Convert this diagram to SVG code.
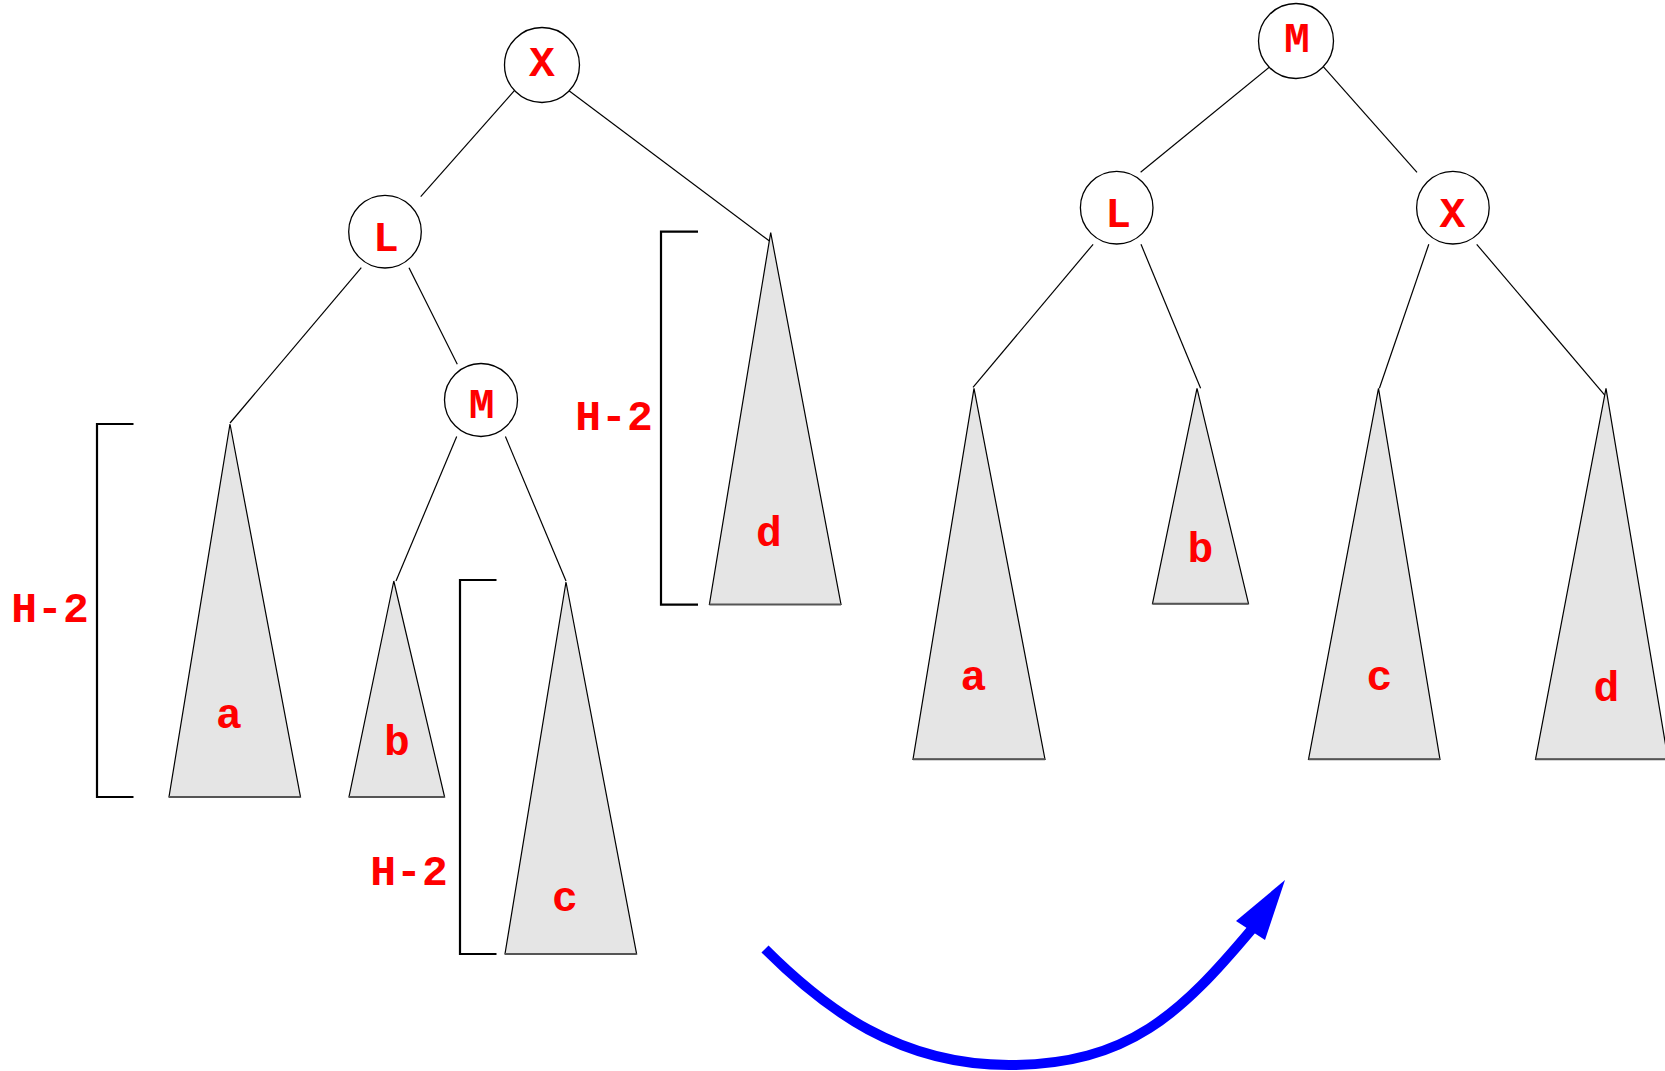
<svg xmlns="http://www.w3.org/2000/svg" width="1665" height="1071" viewBox="0 0 1665 1071">
<style>
.node circle{fill:#fff;stroke:#000;stroke-width:1.3}
.lbl{font-family:"Liberation Mono","Courier New",monospace;font-weight:bold;font-size:43px;fill:#ff0000;text-anchor:middle}
.tri polygon{fill:#e5e5e5;stroke:#000;stroke-width:1.2;stroke-linejoin:miter}
.tri line{stroke:#555;stroke-width:2}
.edges line{stroke:#000;stroke-width:1.2}
.brk{fill:none;stroke:#000;stroke-width:2.2}
</style>
<rect width="1665" height="1071" fill="#fff"/>
<g id="connectors" class="edges">
<line x1="517" y1="87.7" x2="420.7" y2="196.7"/>
<line x1="565" y1="87.7" x2="769.5" y2="241"/>
<line x1="361.3" y1="267.7" x2="230" y2="423"/>
<line x1="409" y1="267.7" x2="457.3" y2="364.3"/>
<line x1="456.7" y1="436.5" x2="396" y2="581"/>
<line x1="505.4" y1="436.5" x2="566" y2="581"/>
<line x1="1273.5" y1="63.7" x2="1140.6" y2="172.3"/>
<line x1="1320.6" y1="63.7" x2="1417" y2="172.3"/>
<line x1="1093.1" y1="244.3" x2="973" y2="387.3"/>
<line x1="1141" y1="244.3" x2="1200.6" y2="388.3"/>
<line x1="1428.8" y1="244.3" x2="1379.4" y2="388.3"/>
<line x1="1476.7" y1="244.3" x2="1606" y2="396.7"/>
</g>
<g id="node-X-left" class="node"><circle cx="542" cy="65" r="37.5"/><text class="lbl" x="542" y="76">X</text></g>
<g id="node-L-left" class="node"><circle cx="385" cy="231.7" r="36.3"/><text class="lbl" x="385.8" y="250.5">L</text></g>
<g id="node-M-left" class="node"><circle cx="481" cy="400" r="36.5"/><text class="lbl" x="481.7" y="418.3">M</text></g>
<g id="tree-a-left" class="tri"><polygon points="230,424 300.5,797 169,797"/><line x1="169" y1="797" x2="300.5" y2="797"/><text class="lbl" x="229" y="728">a</text></g>
<g id="tree-b-left" class="tri"><polygon points="393.8,581 444.6,797 349,797"/><line x1="349" y1="797" x2="444.6" y2="797"/><text class="lbl" x="397" y="755">b</text></g>
<g id="tree-c-left" class="tri"><polygon points="566,582 636.6,954 505,954"/><line x1="505" y1="954" x2="636.6" y2="954"/><text class="lbl" x="565" y="911">c</text></g>
<g id="tree-d-left" class="tri"><polygon points="770.7,232.5 841,604.5 709.4,604.5"/><line x1="709.4" y1="604.5" x2="841" y2="604.5"/><text class="lbl" x="769" y="546">d</text></g>
<g id="bracket-a"><polyline class="brk" points="133.5,424 97,424 97,797 133.5,797"/><text class="lbl" x="50" y="622">H-2</text></g>
<g id="bracket-c"><polyline class="brk" points="496.5,580 460,580 460,954 496.5,954"/><text class="lbl" x="409" y="885">H-2</text></g>
<g id="bracket-d"><polyline class="brk" points="698,231.7 661,231.7 661,604.6 698,604.6"/><text class="lbl" x="614" y="430">H-2</text></g>
<g id="node-M-right" class="node"><circle cx="1296" cy="41" r="37.5"/><text class="lbl" x="1297" y="52.3">M</text></g>
<g id="node-L-right" class="node"><circle cx="1116.7" cy="207.7" r="36.3"/><text class="lbl" x="1118.2" y="226.7">L</text></g>
<g id="node-X-right" class="node"><circle cx="1452.9" cy="207.7" r="36.3"/><text class="lbl" x="1452.5" y="226.7">X</text></g>
<g id="tree-a-right" class="tri"><polygon points="974,388.3 1045,759.3 913,759.3"/><line x1="913" y1="759.3" x2="1045" y2="759.3"/><text class="lbl" x="973.5" y="690">a</text></g>
<g id="tree-b-right" class="tri"><polygon points="1197,388.3 1248.5,603.7 1152.5,603.7"/><line x1="1152.5" y1="603.7" x2="1248.5" y2="603.7"/><text class="lbl" x="1200.5" y="562">b</text></g>
<g id="tree-c-right" class="tri"><polygon points="1378.5,388.3 1440,759.3 1308.5,759.3"/><line x1="1308.5" y1="759.3" x2="1440" y2="759.3"/><text class="lbl" x="1379.5" y="690">c</text></g>
<g id="tree-d-right" class="tri"><polygon points="1606,388.3 1668,759.3 1535.5,759.3"/><line x1="1535.5" y1="759.3" x2="1668" y2="759.3"/><text class="lbl" x="1606.5" y="701">d</text></g>
<g id="rotation-arrow">
<path d="M765,949 C825,1009 899,1065 1009,1065 C1129,1065 1181.6,1012.7 1252,929" fill="none" stroke="#0000ff" stroke-width="10"/>
<polygon points="1285,880 1236,921 1265,940" fill="#0000ff"/>
</g>
</svg>
